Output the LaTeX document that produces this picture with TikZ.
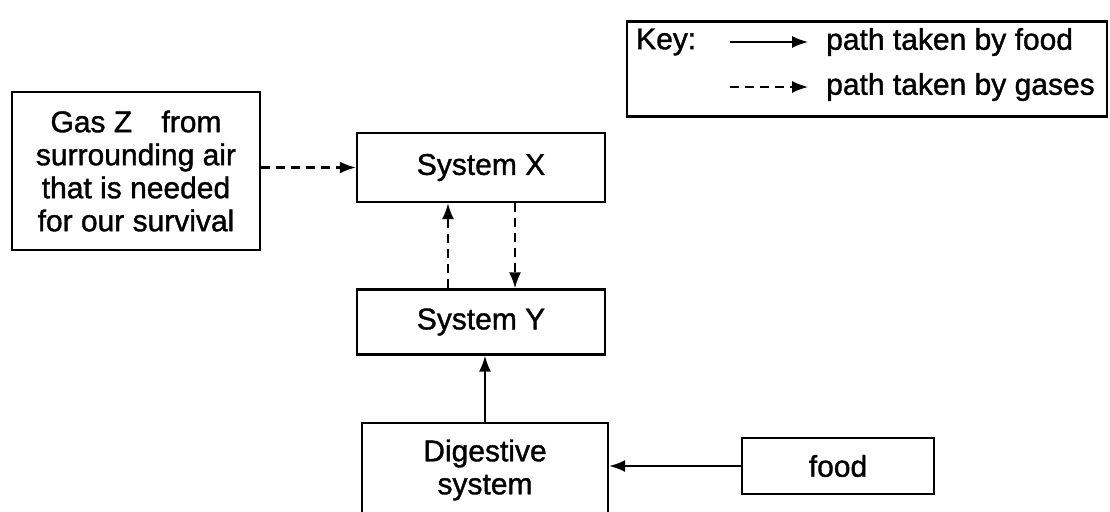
\documentclass[tikz,border=0pt]{standalone}
\usepackage{fontspec}
\setmainfont{Liberation Sans}[FakeBold=1.2]
\usetikzlibrary{arrows.meta}
\begin{document}
\begin{tikzpicture}[x=1pt,y=-1pt]
			% Styles
			\tikzstyle{boite}=[draw,line width=2.2pt,inner sep=0pt,align=center,font=\fontsize{30}{33}\selectfont]
			\tikzstyle{texte}=[inner sep=0pt,font=\fontsize{30}{33}\selectfont]
			\tikzstyle{fleche}=[->,>={Latex[length=16pt,width=12pt]},line width=2.2pt]
			\tikzstyle{flechegaz}=[fleche,dash pattern=on 9pt off 6pt]
			% Cadre
			\useasboundingbox (0,0) rectangle (1110,511);
			% Legende
			\node[boite,minimum width=480,minimum height=95] (cle) at (867,69) {};
			\node[texte,anchor=west] (cletitre) at (636,42) {Key:};
			\coordinate (cleA) at (730,42);
			\coordinate (cleB) at (808,42);
			\node[texte,anchor=west] (clenourriture) at (826,42) {path taken by food};
			\coordinate (cleC) at (730,87);
			\coordinate (cleD) at (808,87);
			\node[texte,anchor=west] (clegaz) at (826,87) {path taken by gases};
			% Noeuds
			\node[boite,minimum width=248,minimum height=158] (gaz) at (136,171)
				{Gas Z \hspace{0.7em}from\\surrounding air\\that is needed\\for our survival};
			\node[boite,minimum width=248,minimum height=69] (sysX) at (481,167.5) {System X};
			\node[boite,minimum width=248,minimum height=65] (sysY) at (481,322) {System Y};
			\node[boite,minimum width=246,minimum height=94] (digest) at (485,470) {Digestive\\system};
			\node[boite,minimum width=192,minimum height=56] (food) at (838,466) {food};
			% Arcs
			\draw[fleche,line width=1.6pt] (cleA)--(cleB);
			\draw[flechegaz,line width=1.6pt] (cleC)--(cleD);
			\draw[flechegaz] (gaz.east |- sysX.west)--(sysX.west);
			\draw[flechegaz] ([xshift=-33pt]sysY.north)--([xshift=-33pt]sysX.south);
			\draw[flechegaz] ([xshift=34pt]sysX.south)--([xshift=34pt]sysY.north);
			\draw[fleche] (digest.north)--(sysY.south -| digest.north);
			\draw[fleche] (food.west)--(food.west -| digest.east);
\end{tikzpicture}
\end{document}
